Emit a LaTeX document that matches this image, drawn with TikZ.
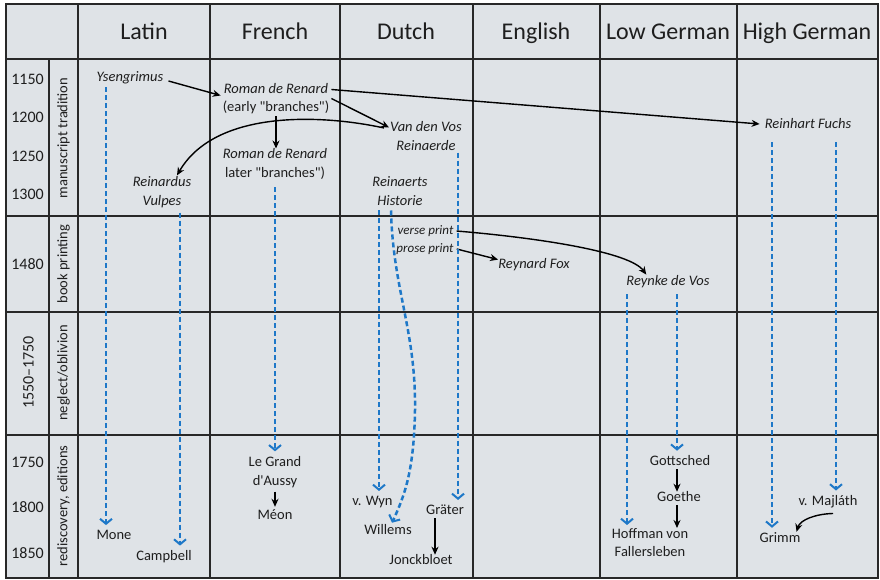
\documentclass[tikz,border=0pt]{standalone}
\usepackage{fontspec}
\setmainfont{Carlito}
\usetikzlibrary{arrows.meta}
\definecolor{bgc}{RGB}{223,227,231}
\definecolor{gridc}{RGB}{40,40,40}
\definecolor{txtc}{RGB}{30,30,30}
\definecolor{fblue}{RGB}{30,120,200}
\begin{document}
\begin{tikzpicture}[x=1pt,y=-1pt,
  gridline/.style={draw=gridc,line width=1.4pt},
  hdr/.style={font=\fontsize{24}{28}\selectfont,text=txtc,inner sep=0pt,anchor=base},
  yr/.style={font=\fontsize{16}{18}\selectfont,text=txtc,inner sep=0pt},
  per/.style={font=\fontsize{14.5}{18}\selectfont,text=txtc,inner sep=0pt,rotate=90},
  txt/.style={font=\fontsize{14.5}{18.5}\selectfont,text=txtc,inner sep=0pt,align=center},
  itx/.style={txt,font=\fontsize{14.5}{18.5}\selectfont\itshape},
  smallit/.style={txt,font=\fontsize{13}{18}\selectfont\itshape},
  blk/.style={draw=black,line width=1.4pt,-{Stealth[length=8pt,width=7pt]}},
  blueline/.style={draw=fblue,line width=2.5pt,dash pattern=on 5pt off 3pt,-{Straight Barb[length=5pt,width=12pt,line width=2pt]},shorten >=5pt}
]
\useasboundingbox (0,0) rectangle (880,580);
% table
\fill[bgc] (6,4) rectangle (878,578);
\foreach \y in {59,216,312,435} \draw[gridline] (6,\y) -- (878,\y);
\draw[gridline] (49,59) -- (49,578);
\foreach \x in {78,210,340,473,600,737} \draw[gridline] (\x,4) -- (\x,578);
\draw[gridline] (6,4) rectangle (878,578);

% headers
\node[hdr] (hLat) at (144,40) {Latin};
\node[hdr] (hFre) at (275,40) {French};
\node[hdr] (hDut) at (406,40) {Dutch};
\node[hdr] (hEng) at (536,40) {English};
\node[hdr] (hLow) at (668,40) {Low German};
\node[hdr] (hHig) at (807,40) {High German};

% years
\node[yr] (y1150) at (27.5,79) {1150};
\node[yr] (y1200) at (27.5,117.5) {1200};
\node[yr] (y1250) at (27.5,156) {1250};
\node[yr] (y1300) at (27.5,194) {1300};
\node[yr] (y1480) at (27.5,264) {1480};
\node[yr,rotate=90] (y1550) at (28.5,372.5) {1550–1750};
\node[yr] (y1750) at (27.5,462) {1750};
\node[yr] (y1800) at (27.5,507) {1800};
\node[yr] (y1850) at (27.5,553) {1850};

% periods
\node[per] (p1) at (63.5,138) {manuscript tradition};
\node[per] (p2) at (63.5,264) {book printing};
\node[per] (p3) at (63.5,373) {neglect/oblivion};
\node[per] (p4) at (63.5,506) {rediscovery, editions};

% works
\node[itx] (ysen) at (130,78) {Ysengrimus};
\node[txt] (rdr1) at (276,98.5) {\itshape Roman de Renard\\(early \textquotedbl branches\textquotedbl)};
\node[txt] (rdr2) at (275,164) {\itshape Roman de Renard\\later \textquotedbl branches\textquotedbl)};
\node[itx] (vdv) at (426,136) {Van den Vos\\Reinaerde};
\node[itx] (rf) at (808,124) {Reinhart Fuchs};
\node[itx] (rv) at (162,192) {Reinardus\\Vulpes};
\node[itx] (rh) at (400,191) {Reinaerts\\Historie};
\node[smallit] (verse) at (425.5,231) {verse print};
\node[smallit] (prose) at (425,249) {prose print};
\node[itx] (rfox) at (534,265) {Reynard Fox};
\node[itx] (rdv) at (668,282) {Reynke de Vos};

\node[txt] (mone) at (114,535) {Mone};
\node[txt] (camp) at (164,557) {Campbell};
\node[txt] (lgd) at (275,472) {Le Grand\\d\textquotesingle Aussy};
\node[txt] (meon) at (275,515) {Méon};
\node[txt] (wyn) at (372.5,502) {v. Wyn};
\node[txt] (will) at (388,530) {Willems};
\node[txt] (grat) at (445,510) {Gräter};
\node[txt] (jonck) at (421,560) {Jonckbloet};
\node[txt] (gott) at (680,461) {Gottsched};
\node[txt] (goethe) at (679,497) {Goethe};
\node[txt] (hoff) at (650,542.5) {Hoffman von\\Fallersleben};
\node[txt] (majl) at (828,502) {v. Majláth};
\node[txt] (grimm) at (780,538) {Grimm};

% black arrows
\draw[blk] ([shift={(5,3)}]ysen.east) -- ([shift={(-2,-3)}]rdr1.west);
\draw[blk] ([shift={(0,2)}]rdr1.south) -- (rdr1.south |- rdr2.north);
\draw[blk] ([shift={(2,0)}]rdr1.east) -- ([shift={(-1,6)}]vdv.north west);
\draw[blk] ([shift={(2,-9)}]rdr1.east) -- ([xshift=-5pt]rf.west);
\draw[blk] ([shift={(-6,-8)}]vdv.west) .. controls (320,114) and (215,110) .. ([shift={(15,-1)}]rv.north);
\draw[blk] ([xshift=3pt]verse.east) .. controls (540,238) and (630,252) .. ([shift={(20,-1)}]rdv.north west);
\draw[blk] ([xshift=3pt]prose.east) -- ([shift={(0,1)}]rfox.north west);
\draw[blk] ([shift={(0,4)}]lgd.south) -- ([shift={(0,-3)}]meon.north);
\draw[blk] ([shift={(-10,3)}]grat.south) -- ([xshift=-10pt]grat.south |- jonck.north);
\draw[blk] ([shift={(-3,3)}]gott.south) -- ([xshift=-3pt]gott.south |- goethe.north);
\draw[blk] ([shift={(-2,3)}]goethe.south) -- ([xshift=-2pt]goethe.south |- hoff.north);
\draw[blk] ([shift={(5,5)}]majl.south) .. controls (815,514) and (800,520) .. ([shift={(-4,-1)}]grimm.north east);

% blue dashed lines
\coordinate (b1) at ([shift={(-24,3)}]ysen.south);
\draw[blueline] (b1) -- (b1 |- mone.north);
\coordinate (b2) at ([shift={(18,5)}]rv.south);
\draw[blueline] (b2) -- (b2 |- camp.north);
\coordinate (b3) at ([shift={(0,8)}]rdr2.south);
\draw[blueline] (b3) -- (b3 |- lgd.north);
\coordinate (b4) at ([shift={(-21,5)}]rh.south);
\draw[blueline] (b4) -- (b4 |- wyn.north);
\coordinate (b5) at ([shift={(-9,5)}]rh.south);
\draw[blueline,shorten >=0pt] (b5) .. controls (393,290) and (416,330) .. (415,410) .. controls (414,470) and (405,495) .. ([shift={(4,-2)}]will.north);
\coordinate (b6) at ([shift={(32,2)}]vdv.south);
\draw[blueline] (b6) -- (b6 |- grat.north);
\coordinate (b7) at ([shift={(-41,6)}]rdv.south);
\draw[blueline,shorten >=3pt] (b7) -- (b7 |- hoff.north);
\coordinate (b8) at ([shift={(9,6)}]rdv.south);
\draw[blueline] (b8) -- (b8 |- gott.north);
\coordinate (b9) at ([shift={(-36,13)}]rf.south);
\draw[blueline] (b9) -- (b9 |- grimm.north);
\coordinate (b10) at ([shift={(28,13)}]rf.south);
\draw[blueline] (b10) -- (b10 |- majl.north);
\end{tikzpicture}
\end{document}
